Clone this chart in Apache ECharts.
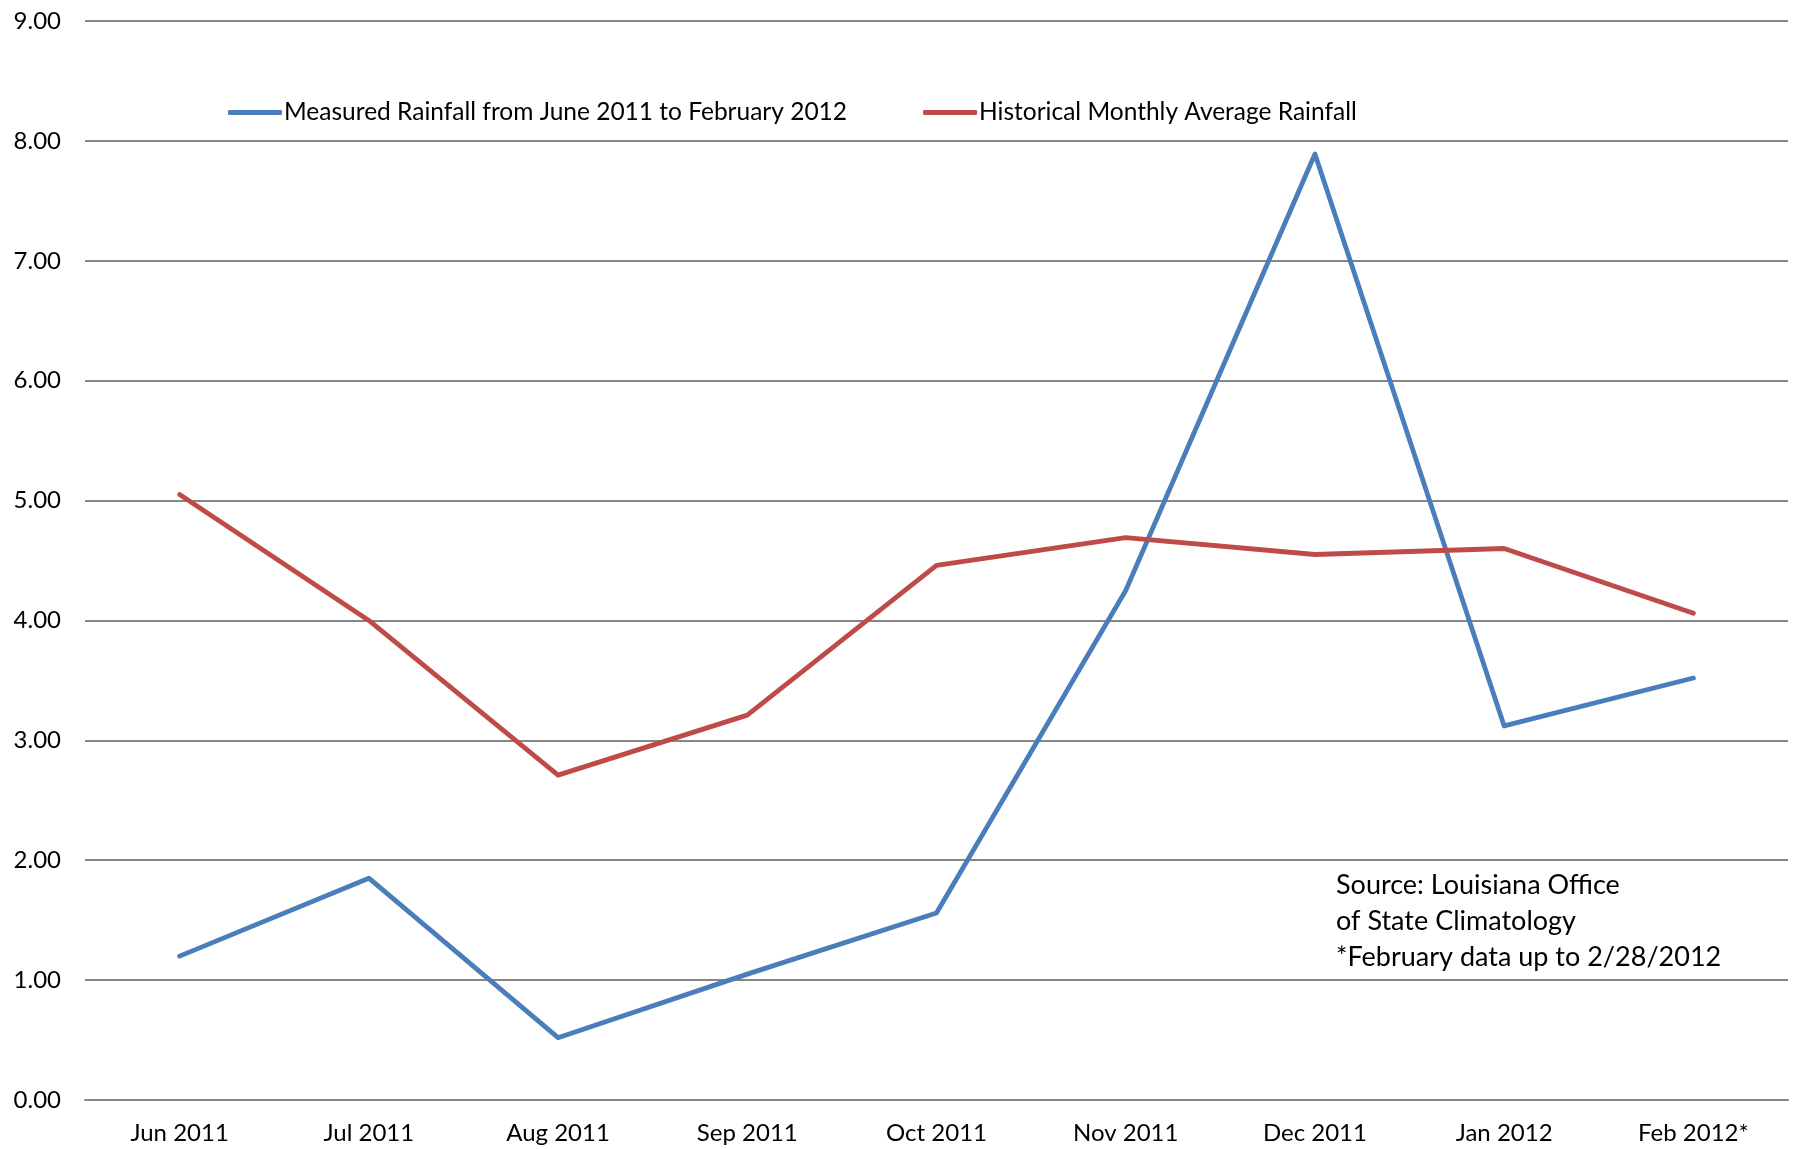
<!DOCTYPE html>
<html>
<head>
<meta charset="utf-8">
<script src="https://cdn.jsdelivr.net/npm/echarts@6/dist/echarts.min.js"></script>
<style>
html,body{margin:0;padding:0;background:#fff;}
#chart{width:1795px;height:1149px;}
</style>
</head>
<body>
<div id="chart"></div>
<script>
const categories = ['Jun 2011','Jul 2011','Aug 2011','Sep 2011','Oct 2011','Nov 2011','Dec 2011','Jan 2012','Feb 2012*'];
const measured = [1.20, 1.85, 0.52, 1.05, 1.56, 4.25, 7.89, 3.12, 3.52];
const historical = [5.05, 4.00, 2.71, 3.21, 4.46, 4.69, 4.55, 4.60, 4.06];
const seriesNames = ['Measured Rainfall from June 2011 to February 2012','Historical Monthly Average Rainfall'];
const sourceLines = ['Source: Louisiana Office','of State Climatology','*February data up to 2/28/2012'];

const FONT = "Lato, sans-serif";
const chart = echarts.init(document.getElementById('chart'), null, {renderer:'canvas'});
chart.setOption({
  backgroundColor:'#ffffff',
  animation:false,
  textStyle:{fontFamily:FONT,color:'#000'},
  grid:{left:85,right:7,top:21,bottom:49,containLabel:false},
  legend:{
    left:228, top:100, padding:0,
    itemWidth:54, itemHeight:5, itemGap:76,
    icon:'roundRect',
    textStyle:{fontFamily:FONT,fontSize:24.5,color:'#000',padding:[0,0,0,-3]},
    data:seriesNames
  },
  xAxis:{
    type:'category',
    data:categories,
    boundaryGap:true,
    axisLine:{show:true,lineStyle:{color:'#868686',width:2}},
    axisTick:{show:false},
    axisLabel:{fontFamily:FONT,fontSize:24,color:'#000',margin:21}
  },
  yAxis:{
    type:'value',
    min:0,max:9,interval:1,
    axisLine:{show:false},
    axisTick:{show:false},
    splitLine:{lineStyle:{color:'#868686',width:2}},
    axisLabel:{fontFamily:FONT,fontSize:24,color:'#000',margin:24,formatter:v=>v.toFixed(2)}
  },
  series:[
    {name:seriesNames[0],type:'line',data:measured,showSymbol:false,symbol:'none',
     lineStyle:{color:'#4a7ebb',width:4.8,cap:'round',join:'round'},itemStyle:{color:'#4a7ebb'}},
    {name:seriesNames[1],type:'line',data:historical,showSymbol:false,symbol:'none',
     lineStyle:{color:'#be4b48',width:4.8,cap:'round',join:'round'},itemStyle:{color:'#be4b48'}}
  ],
  graphic:[{
    type:'text', left:1336, top:867,
    style:{text:sourceLines.join('\n'),font:"27px "+FONT,fill:'#000',lineHeight:36}
  }]
});
</script>
</body>
</html>
